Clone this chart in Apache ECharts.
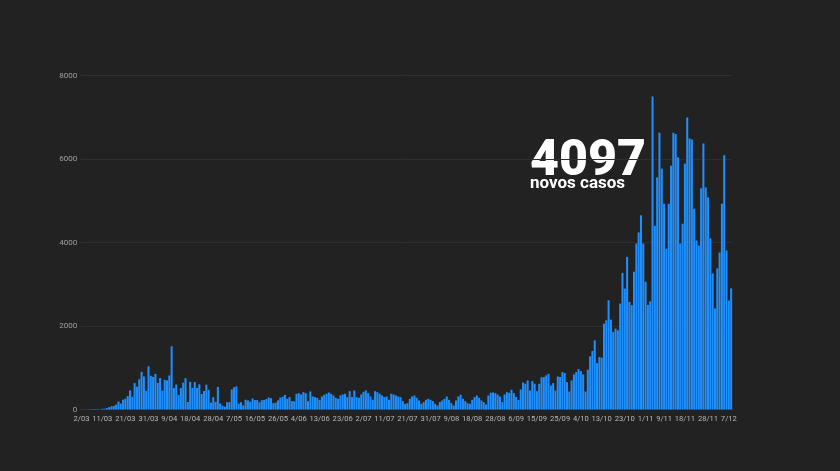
<!DOCTYPE html>
<html>
<head>
<meta charset="utf-8">
<script src="https://cdn.jsdelivr.net/npm/echarts@6/dist/echarts.min.js"></script>
<style>
html,body{margin:0;padding:0;background:#222222;}
#chart{width:840px;height:471px;}
</style>
</head>
<body>
<div id="chart"></div>
<script>
// Daily new cases, 2 March 2020 .. 8 December 2020
const marchValues = [2,2,2,3,4,8,9,9,2,18,19,34,57,76,86,117,194,143,235,260,320,460,302,633,549,724,902,792,446,1035];
const aprilValues = [808,783,852,638,754,452,712,699,815,1516,515,598,349,514,643,750,181,663,521,657,516,603,371,444,595,472,163,295,183,540];
const mayValues = [145,92,69,173,178,480,533,553,138,175,98,234,219,187,264,227,226,173,223,228,252,288,271,152,165,219,285,304,350,257,297];
const juneValues = [200,195,376,392,360,416,392,200,432,312,296,280,232,312,352,376,408,376,336,280,256,336,360,376,296,440,296,456,296,280];
const julyValues = [360,424,456,392,312,232,440,416,376,336,296,312,232,376,360,336,312,296,200,136,152,256,312,336,280,216,136,176,232,256,232];
const augustValues = [200,136,96,176,216,256,312,232,152,96,216,312,352,256,200,152,136,232,296,336,280,216,176,120,336,400,408,392,360,312,176];
const septemberValues = [360,416,400,472,392,300,232,480,646,616,696,456,680,616,440,616,776,776,816,856,576,632,456,792,780,896,872,656,432,696];
const octoberValues = [840,896,968,920,840,432,952,1272,1400,1656,1112,1256,1240,2056,2136,2616,2152,1856,1936,1896,2536,3272,2896,3656,2576,2500,3300,3975,4240,4650,3975];
const novemberValues = [3060,2506,2590,7497,4400,5560,6630,5770,4930,3850,4930,5840,6630,6600,6040,3975,4450,5890,6994,6490,6470,4810,4050,3930,5300,6370,5320,5080,4100,3260];
const decemberValues = [2420,3380,3760,4930,6090,3810,2610,2900];

const tickLabels = ["2/03","11/03","21/03","31/03","9/04","18/04","28/04","7/05","16/05","26/05","4/06","13/06","23/06","2/07","11/07","21/07","31/07","9/08","18/08","28/08","6/09","15/09","25/09","4/10","13/10","23/10","1/11","9/11","18/11","28/11","7/12"];
const yTicks = [0, 2000, 4000, 6000, 8000];
const headline = "4097";
const subline = "novos casos";

const values = [].concat(marchValues, aprilValues, mayValues, juneValues, julyValues,
  augustValues, septemberValues, octoberValues, novemberValues, decemberValues);
const categories = values.map(function (_, k) {
  const d = new Date(2020, 2, 2 + k);
  return d.getDate() + '/' + String(d.getMonth() + 1).padStart(2, '0');
});

const chart = echarts.init(document.getElementById('chart'), null, {renderer: 'canvas'});
chart.setOption({
  backgroundColor: '#222222',
  animation: false,
  grid: {left: 80.3, right: 107.7, top: 75.5, bottom: 61.5, containLabel: false},
  xAxis: {
    type: 'category',
    data: categories,
    boundaryGap: true,
    axisLine: {show: true, lineStyle: {color: '#2e2e2e'}},
    axisTick: {show: false},
    axisLabel: {
      color: '#b8b8b8', fontSize: 7.6, fontFamily: 'Roboto', margin: 6,
      interval: function (idx, val) { return tickLabels.indexOf(val) >= 0; }
    }
  },
  yAxis: {
    type: 'value',
    min: yTicks[0], max: yTicks[yTicks.length - 1], interval: 2000,
    axisLine: {show: false},
    axisTick: {show: false},
    axisLabel: {color: '#a0a0a0', fontSize: 8, fontFamily: 'Roboto', margin: 3,
      formatter: function (v) { return String(v); }},
    splitLine: {lineStyle: {color: '#2e2e2e', width: 1}}
  },
  series: [{
    type: 'bar',
    data: values,
    barCategoryGap: '12%',
    itemStyle: {color: '#1e8fff'}
  }],
  graphic: [
    {type: 'text', left: 530, top: 137, style: {text: headline, fill: '#ffffff', font: '900 50px Roboto'}},
    {type: 'text', left: 530, top: 175, style: {text: subline, fill: '#ffffff', font: 'bold 17px Roboto'}}
  ]
});
</script>
</body>
</html>
